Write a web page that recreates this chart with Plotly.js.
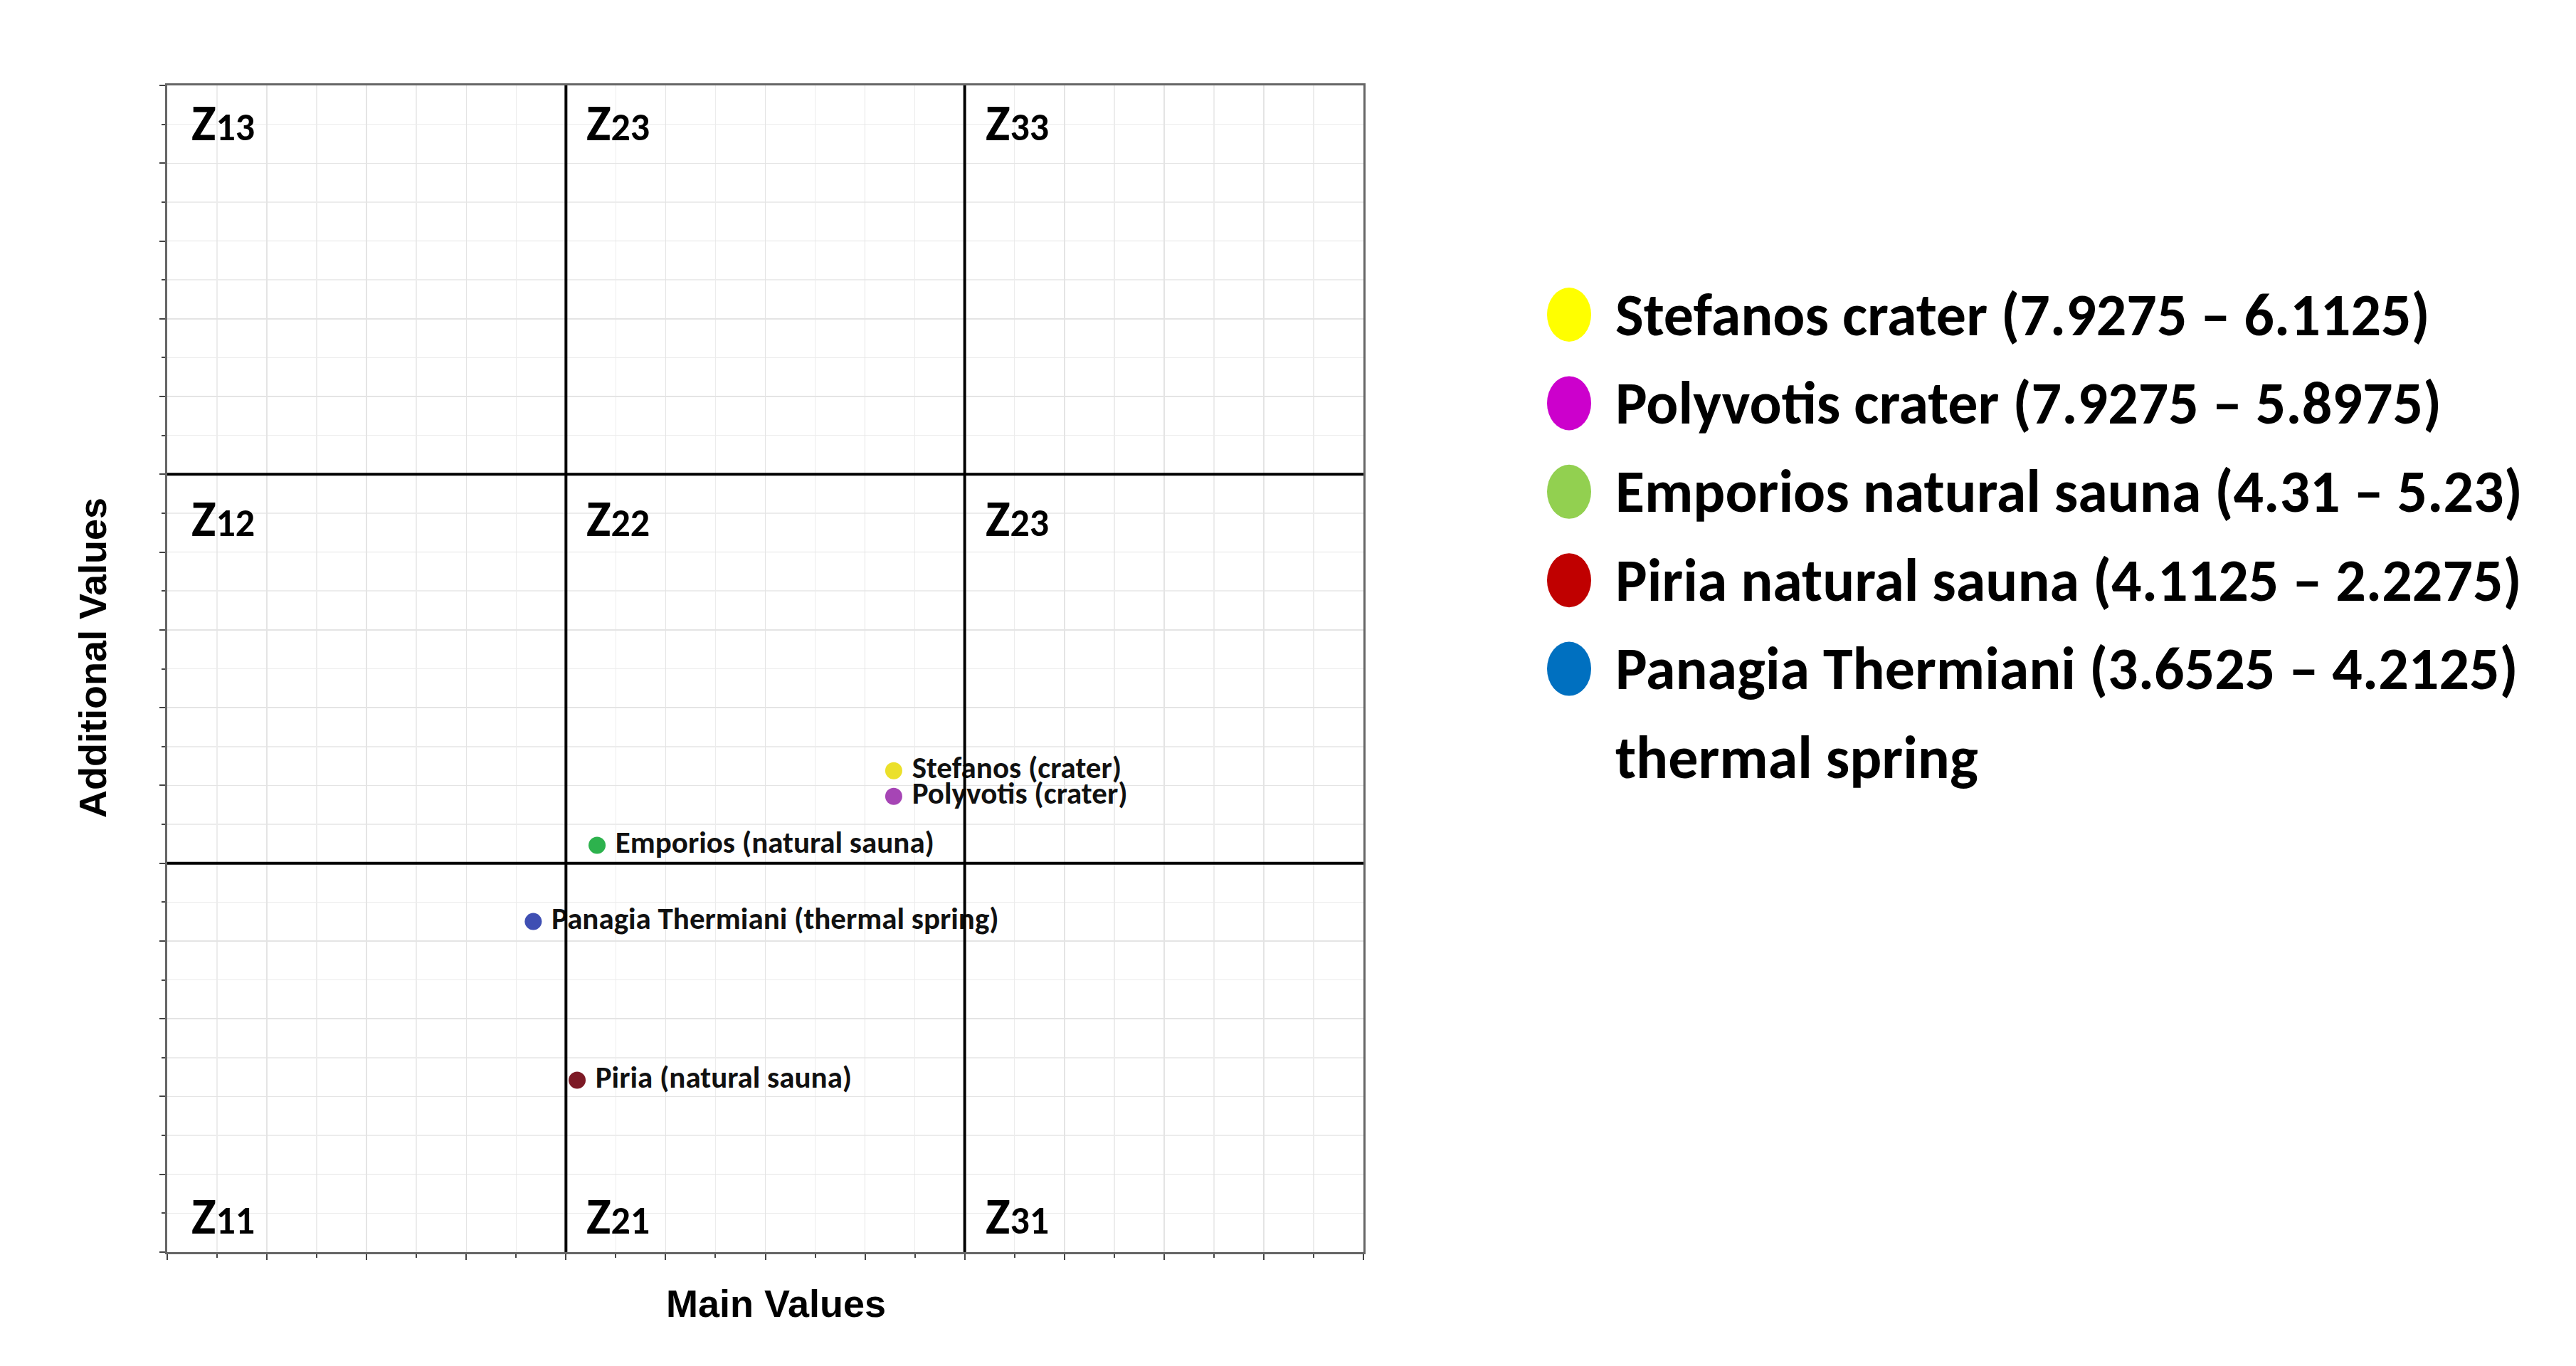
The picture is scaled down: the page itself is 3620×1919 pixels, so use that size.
<!DOCTYPE html>
<html>
<head>
<meta charset="utf-8">
<script src="https://cdn.plot.ly/plotly-3.0.1.min.js"></script>
<style>
  html, body { margin: 0; padding: 0; background: #fff; }
  #chart { width: 3620px; height: 1919px; }
</style>
</head>
<body>
<div id="chart"></div>
<script>
'use strict';

// sites placed on the zone grid
const siteNames = ['Stefanos (crater)', 'Polyvotis (crater)', 'Emporios (natural sauna)', 'Panagia Thermiani (thermal spring)', 'Piria (natural sauna)'];
const mainValues = [9.11, 9.11, 5.39, 4.59, 5.14];
const additionalValues = [6.19, 5.86, 5.23, 4.25, 2.21];
const siteColors = ['#ebe02a', '#a645b5', '#2db24d', '#3f4fb3', '#7d1a26'];

// legend on the right
const legendLabels = ['Stefanos crater (7.9275 – 6.1125)', 'Polyvotis crater (7.9275 – 5.8975)', 'Emporios natural sauna (4.31 – 5.23)', 'Piria natural sauna (4.1125 – 2.2275)', 'Panagia Thermiani (3.6525 – 4.2125)', 'thermal spring'];
const legendColors = ['#ffff00', '#cc00cc', '#92d050', '#c00000', '#0070c0', null];

// zone names, top row first
const zoneLabels = [['13', '23', '33'], ['12', '22', '23'], ['11', '21', '31']];
const zoneBreaks = [5, 10];
const axisMax = 15;

const CAL = 'Carlito, Lato, sans-serif';
const ARIAL = '"Liberation Sans", Arial, sans-serif';

const W = 3620, H = 1919;
const M = { l: 235, r: 1704, t: 120, b: 160 };
const plotW = W - M.l - M.r, plotH = H - M.t - M.b;
const px2x = p => (p - M.l) / plotW;      // page px -> paper x
const px2y = p => (H - M.b - p) / plotH;  // page px -> paper y

const shapes = [];
zoneBreaks.forEach(b => {
    shapes.push({ type: 'line', xref: 'x', yref: 'y', x0: b, x1: b, y0: 0, y1: axisMax, line: { color: '#000', width: 4 } });
    shapes.push({ type: 'line', xref: 'x', yref: 'y', x0: 0, x1: axisMax, y0: b, y1: b, line: { color: '#000', width: 4 } });
});

const annotations = [];
const colStarts = [0].concat(zoneBreaks);
const rowCenters = [14.52, 9.44, 0.47];
zoneLabels.forEach((row, ri) => {
    row.forEach((lab, ci) => {
        annotations.push({
            xref: 'x', yref: 'y', x: colStarts[ci], y: rowCenters[ri], xshift: ci ? 27 : 32,
            xanchor: 'left', yanchor: 'middle', showarrow: false,
            text: 'Z<span style="font-size:54px">' + lab + '</span>',
            font: { family: CAL, size: 72, weight: 700, color: '#000' },
        });
    });
});

// axis titles
annotations.push({
    xref: 'paper', yref: 'paper', x: px2x(1090), y: px2y(1831), xanchor: 'center', yanchor: 'middle',
    showarrow: false, text: 'Main Values', font: { family: ARIAL, size: 54, weight: 700, color: '#000' },
});
annotations.push({
    xref: 'paper', yref: 'paper', x: px2x(130), y: px2y(924), xanchor: 'center', yanchor: 'middle',
    showarrow: false, textangle: -90, text: 'Additional Values', font: { family: ARIAL, size: 54, weight: 700, color: '#000' },
});

// custom legend: ovals + labels
const legTop = 442, legStep = 124.4;
legendLabels.forEach((lab, i) => {
    const cy = legTop + i * legStep;
    if (legendColors[i]) {
        shapes.push({
            type: 'circle', xref: 'paper', yref: 'paper',
            xsizemode: 'pixel', ysizemode: 'pixel',
            xanchor: px2x(2205), yanchor: px2y(cy),
            x0: -31, x1: 31, y0: -38, y1: 38,
            fillcolor: legendColors[i], line: { width: 0 },
        });
    }
    annotations.push({
        xref: 'paper', yref: 'paper', x: px2x(2268), y: px2y(cy),
        xanchor: 'left', yanchor: 'middle', showarrow: false, text: lab,
        font: { family: CAL, size: 84, weight: 700, color: '#000' },
    });
});

const trace = {
    x: mainValues, y: additionalValues,
    text: siteNames.map(s => '\u00a0' + s),
    type: 'scatter', mode: 'markers+text', textposition: 'middle right',
    marker: { color: siteColors, size: 24 },
    textfont: { family: CAL, size: 43, weight: 700, color: '#111' },
    cliponaxis: false, hoverinfo: 'skip',
};

const axisBase = {
    range: [0, axisMax], showticklabels: false, zeroline: false,
    ticks: 'outside', tickcolor: '#444', tickwidth: 2,
    showgrid: true, gridcolor: '#e4e4e4', gridwidth: 1.5,
    showline: true, linecolor: '#666', linewidth: 3, mirror: true,
    fixedrange: true,
};

const layout = {
    width: W, height: H,
    margin: M,
    paper_bgcolor: '#fff', plot_bgcolor: '#fff',
    showlegend: false,
    xaxis: Object.assign({}, axisBase, {
        tick0: 0, dtick: 1.25, ticklen: 8,
        minor: { dtick: 0.625, ticks: 'outside', ticklen: 5, tickcolor: '#444', showgrid: true, gridcolor: '#ececec', gridwidth: 1.5 },
    }),
    yaxis: Object.assign({}, axisBase, {
        tick0: 0, dtick: 1, ticklen: 8,
        minor: { dtick: 0.5, ticks: 'outside', ticklen: 5, tickcolor: '#444', showgrid: true, gridcolor: '#ececec', gridwidth: 1.5 },
    }),
    shapes, annotations,
};

Plotly.newPlot('chart', [trace], layout, { staticPlot: true });
</script>
</body>
</html>
